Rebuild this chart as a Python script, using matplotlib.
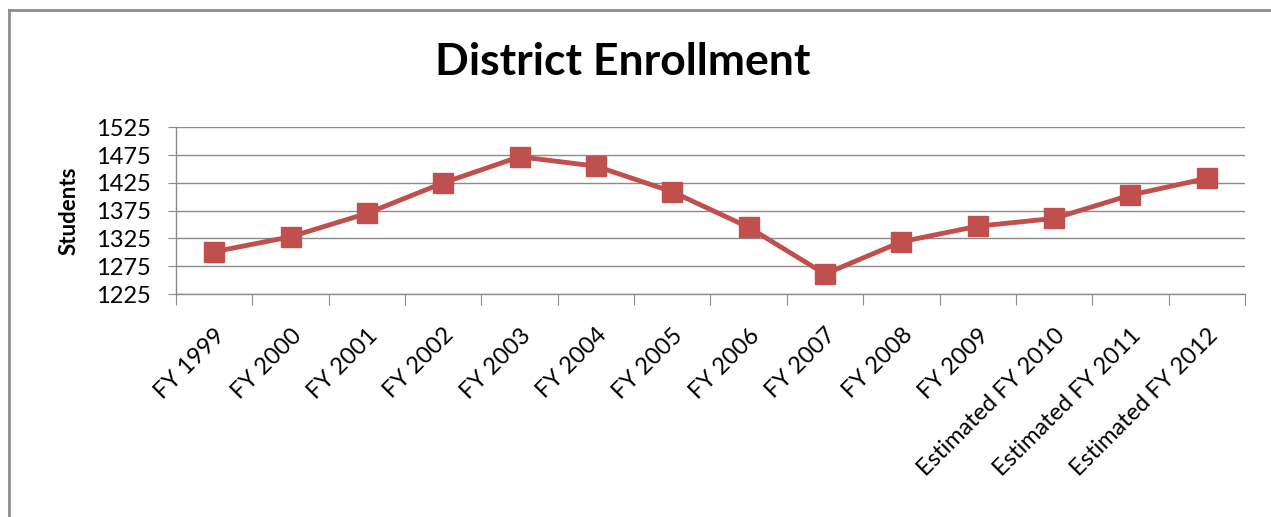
import matplotlib.pyplot as plt
from matplotlib.lines import Line2D

# District enrollment by fiscal year (last three are estimates)
years = ['FY 1999', 'FY 2000', 'FY 2001', 'FY 2002', 'FY 2003', 'FY 2004',
         'FY 2005', 'FY 2006', 'FY 2007', 'FY 2008', 'FY 2009',
         'Estimated FY 2010', 'Estimated FY 2011', 'Estimated FY 2012']
students = [1301, 1328, 1370, 1425, 1472, 1455, 1409, 1345, 1261, 1319,
            1347, 1361, 1403, 1433]
yticks = [1225, 1275, 1325, 1375, 1425, 1475, 1525]

plt.rcParams['font.family'] = ['Lato', 'DejaVu Sans']

fig = plt.figure(figsize=(12.71, 5.17), dpi=100)
ax = fig.add_axes([0.1385, 0.4313, 0.841, 0.3225])

x = list(range(len(years)))
ax.plot(x, students, color='#C0504D', lw=3.5, marker='s', ms=14,
        markeredgecolor='#C0504D', zorder=3)

ax.set_xlim(-0.5, len(years) - 0.5)
ax.set_ylim(yticks[0], yticks[-1])
ax.set_yticks(yticks)
ax.yaxis.grid(True, color='#8c8c8c', lw=1)
ax.set_axisbelow(True)

# category ticks sit between categories
ax.set_xticks([i - 0.5 for i in range(len(years) + 1)])
ax.set_xticklabels([])
ax.set_xticks(x, minor=True)
ax.set_xticklabels(years, minor=True, rotation=45, ha='right',
                   rotation_mode='anchor', fontsize=17)
ax.tick_params(axis='x', which='major', length=8, color='#8c8c8c')
ax.tick_params(axis='x', which='minor', length=0, pad=22)
ax.tick_params(axis='y', length=6, color='#8c8c8c', labelsize=17, pad=12)

for s in ['top', 'right']:
    ax.spines[s].set_visible(False)
for s in ['left', 'bottom']:
    ax.spines[s].set_color('#8c8c8c')
    ax.spines[s].set_linewidth(1)

ax.set_ylabel('Students', fontsize=16, fontweight='bold', labelpad=12)

fig.text(0.49, 0.88, 'District Enrollment', ha='center', va='center',
         fontsize=32, fontweight='bold')

# outer chart frame (runs off the right and bottom edges)
fig.add_artist(Line2D([9 / 1271, 1.01], [1 - 10 / 517] * 2,
                      transform=fig.transFigure, color='#8c8c8c', lw=2))
fig.add_artist(Line2D([9 / 1271] * 2, [-0.01, 1 - 10 / 517],
                      transform=fig.transFigure, color='#8c8c8c', lw=2))

fig.savefig('out.png', dpi=100)
